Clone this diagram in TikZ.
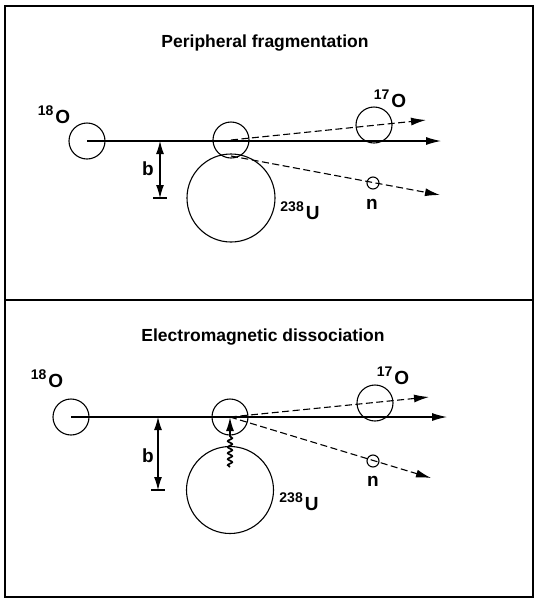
\documentclass[tikz,border=0pt]{standalone}
\usepackage{fontspec}
\setmainfont{Liberation Sans}
\usetikzlibrary{arrows.meta,decorations.pathmorphing}
\tikzset{
 nuc/.style={draw, circle, inner sep=0pt, line width=1.1pt},
 traj/.style={line width=1.1pt, -{Latex[length=15pt,width=8pt]}},
 dtraj/.style={traj, dash pattern=on 7pt off 3.5pt},
 lbl/.style={font=\fontsize{19}{19}\selectfont\bfseries, inner sep=0pt},
 ttl/.style={font=\fontsize{17.5}{20}\selectfont\bfseries, inner sep=0pt},
 dimarrow/.style={line width=1.1pt, {Latex[length=13pt,width=8pt]}-{Latex[length=13pt,width=8pt]}},
 wavy/.style={line width=1.7pt, -{Latex[length=14pt,width=8pt]}, decorate,
   decoration={snake, amplitude=2.2pt, segment length=6pt, post length=18pt}},
}
\newcommand{\iso}[2]{\raisebox{8pt}{\fontsize{14}{14}\selectfont #1}\hspace{2pt}#2}
\begin{document}
\begin{tikzpicture}[x=1pt,y=-1pt]
\useasboundingbox (0,0) rectangle (534,598);
% frame
\draw[line width=1.4pt] (5,6) rectangle (533,597);
\coordinate (divl) at (5,300);
\coordinate (divr) at (533,300);
\draw[line width=1.4pt] (divl) -- (divr);

% ---------- top panel ----------
\node[ttl] (ttla) at (265,43) {Peripheral fragmentation};
\node[nuc, minimum size=36pt] (o18a) at (87,141) {};
\node[nuc, minimum size=36pt] (mida) at (231,140) {};
\node[nuc, minimum size=88pt] (ua) at (231,198) {};
\node[nuc, minimum size=36pt] (o17a) at (374,125) {};
\node[nuc, minimum size=12pt] (na) at (373,183) {};
\coordinate (enda) at (441,141);
\coordinate (o17enda) at (426,120);
\coordinate (nenda) at (440,195);
\coordinate (toucha) at (231,156);
\draw[traj] (o18a.center) -- (enda);
\draw[dtraj] (mida.center) -- (o17enda);
\draw[dtraj] (toucha) -- (nenda);
\coordinate (ba1) at (160,141);
\coordinate (ba2) at (160,198);
\draw[dimarrow] (ba1) -- (ba2);
\draw[line width=1.1pt] ([xshift=-7pt]ba2) -- ([xshift=7pt]ba2);
\node[lbl] (l18a) at (54,115) {\iso{18}{O}};
\node[lbl] (l17a) at (390,99) {\iso{17}{O}};
\node[lbl] (l238a) at (300,211) {\iso{238}{U}};
\node[lbl] (lna) at (372,204) {n};
\node[lbl] (lba) at (148,169) {b};

% ---------- bottom panel ----------
\node[ttl] (ttlb) at (263,337) {Electromagnetic dissociation};
\node[nuc, minimum size=36pt] (o18b) at (71,417) {};
\node[nuc, minimum size=36pt] (midb) at (230,417) {};
\node[nuc, minimum size=87pt] (ub) at (230,490) {};
\node[nuc, minimum size=36pt] (o17b) at (375,403) {};
\node[nuc, minimum size=12pt] (nb) at (373,461) {};
\coordinate (endb) at (447,417);
\coordinate (o17endb) at (429,397);
\coordinate (nendb) at (431,478);
\draw[traj] (o18b.center) -- (endb);
\draw[dtraj] (midb.center) -- (o17endb);
\draw[dtraj] (midb.center) -- (nendb);
\coordinate (bb1) at (158,417);
\coordinate (bb2) at (158,490);
\draw[dimarrow] (bb1) -- (bb2);
\draw[line width=1.1pt] ([xshift=-7pt]bb2) -- ([xshift=7pt]bb2);
\coordinate (wv) at (230,467);
\draw[wavy] (wv) -- (midb.center);
\node[lbl] (l18b) at (47,379) {\iso{18}{O}};
\node[lbl] (l17b) at (393,376) {\iso{17}{O}};
\node[lbl] (l238b) at (299,502) {\iso{238}{U}};
\node[lbl] (lnb) at (373,481) {n};
\node[lbl] (lbb) at (148,456) {b};
\end{tikzpicture}
\end{document}
